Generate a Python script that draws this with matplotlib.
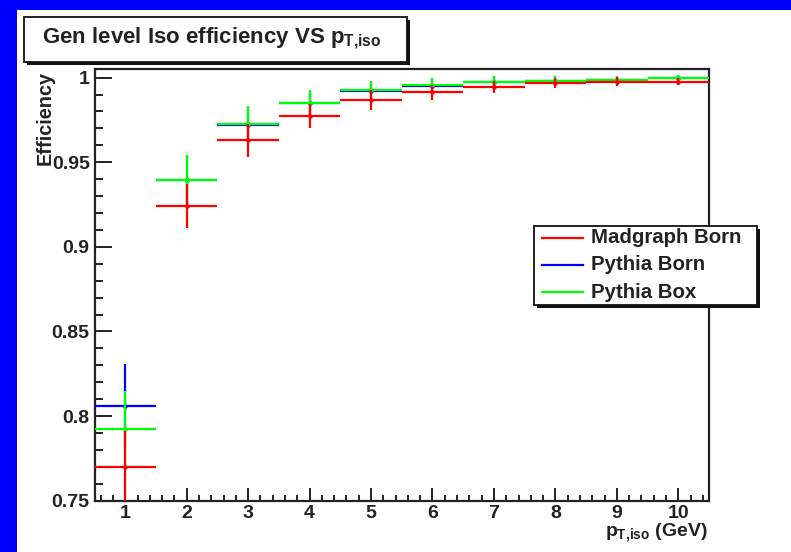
import matplotlib
matplotlib.use("Agg")
import matplotlib.pyplot as plt
from matplotlib.patches import Rectangle
from matplotlib.lines import Line2D
from matplotlib.ticker import MultipleLocator

plt.rcParams['font.family'] = ['Liberation Sans', 'DejaVu Sans']
plt.rcParams['font.weight'] = 'bold'
plt.rcParams['mathtext.fontset'] = 'custom'
plt.rcParams['mathtext.rm'] = 'Liberation Sans:bold'
plt.rcParams['mathtext.it'] = 'Liberation Sans:bold'
plt.rcParams['mathtext.bf'] = 'Liberation Sans:bold'

# ---- data ----
pt_bins = [1, 2, 3, 4, 5, 6, 7, 8, 9, 10]
series_names = ["Madgraph Born", "Pythia Born", "Pythia Box"]
madgraph_born = [0.770, 0.924, 0.963, 0.9775, 0.9868, 0.9914, 0.9945, 0.9970, 0.9976, 0.9977]
madgraph_err = [0.021, 0.013, 0.0097, 0.007, 0.006, 0.0045, 0.0035, 0.003, 0.0025, 0.0022]
pythia_born = [0.806, 0.9395, 0.9722, 0.9848, 0.9922, 0.9953, 0.9973, 0.9980, 0.9985, 0.9996]
pythia_born_err = [0.0245, 0.0148, 0.0105, 0.0075, 0.0055, 0.0045, 0.0035, 0.003, 0.0025, 0.002]
pythia_box = [0.7926, 0.9395, 0.9728, 0.9852, 0.9926, 0.9955, 0.9975, 0.9982, 0.9986, 0.9997]
pythia_box_err = [0.022, 0.0145, 0.0103, 0.0075, 0.0053, 0.0045, 0.0035, 0.003, 0.0025, 0.002]
bin_half_width = 0.5
colors = ["#ff0000", "#0000ff", "#00ff00"]

W, H = 791, 552
fig = plt.figure(figsize=(W / 100, H / 100), dpi=100)
fig.patch.set_facecolor("#0000ff")


def fx(x):
    return x / W


def fy(y):
    return 1 - y / H


# white slide area
fig.add_artist(Rectangle((fx(17), 0), 1 - fx(17), fy(10), transform=fig.transFigure,
                         facecolor="white", edgecolor="none", zorder=0))

ax = fig.add_axes([fx(94.5), fy(500.7), fx(709) - fx(94.5), fy(69) - fy(500.7)])
ax.set_xlim(0.5, 10.5)
ax.set_ylim(0.75, 1.0051)

order = [1, 2, 0]  # blue, green, red (red on top)
vals = [madgraph_born, pythia_born, pythia_box]
errs = [madgraph_err, pythia_born_err, pythia_box_err]
for z, i in enumerate(order):
    ax.errorbar(pt_bins, vals[i], yerr=errs[i], xerr=bin_half_width, fmt='o',
                color=colors[i], ms=2.2, elinewidth=1.6, capsize=0, zorder=3 + z)

for s in ax.spines.values():
    s.set_linewidth(1.6)
    s.set_color("#222222")

ax.xaxis.set_major_locator(MultipleLocator(1))
ax.xaxis.set_minor_locator(MultipleLocator(0.2))
ax.yaxis.set_major_locator(MultipleLocator(0.05))
ax.yaxis.set_minor_locator(MultipleLocator(0.01))
ax.tick_params(axis='both', which='both', direction='in', top=False, right=False,
               labelsize=14, colors="#222222", width=1.4)
ax.tick_params(axis='y', which='major', length=12, pad=3.5)
ax.tick_params(axis='y', which='minor', length=6)
ax.tick_params(axis='x', which='major', length=9.5, pad=3)
ax.tick_params(axis='x', which='minor', length=4.5)
ax.set_yticks([0.75, 0.8, 0.85, 0.9, 0.95, 1.0])
ax.set_yticklabels(["0.75", "0.8", "0.85", "0.9", "0.95", "1"])
for lab in ax.get_xticklabels() + ax.get_yticklabels():
    lab.set_fontweight('bold')

# axis titles
fig.text(fx(45), fy(71), "Efficiency", rotation=90, ha='center', va='top',
         fontsize=14.3, fontweight='bold', color="#222222")
fig.text(fx(708), fy(537), r"$p_{T{,}iso}$ (GeV)", ha='right', va='baseline',
         fontsize=14, fontweight='bold', color="#222222")

# title box with shadow
tx0, ty0, tx1, ty1 = 24, 17, 407, 62
fig.add_artist(Rectangle((fx(tx0 + 3), fy(ty1 + 3)), fx(tx1 - tx0), fy(ty0) - fy(ty1),
                         transform=fig.transFigure, facecolor="#111111", edgecolor="none", zorder=5))
fig.add_artist(Rectangle((fx(tx0), fy(ty1)), fx(tx1 - tx0), fy(ty0) - fy(ty1),
                         transform=fig.transFigure, facecolor="white", edgecolor="#111111",
                         lw=1.3, zorder=6))
fig.text(fx(42), fy(43), r"Gen level Iso efficiency VS $p_{T{,}iso}$", ha='left', va='baseline',
         fontsize=16, fontweight='bold', color="#222222", zorder=7)

# legend box with shadow
lx0, ly0, lx1, ly1 = 534, 226, 757, 305
fig.add_artist(Rectangle((fx(lx0 + 3), fy(ly1 + 3)), fx(lx1 - lx0), fy(ly0) - fy(ly1),
                         transform=fig.transFigure, facecolor="#111111", edgecolor="none", zorder=8))
fig.add_artist(Rectangle((fx(lx0), fy(ly1)), fx(lx1 - lx0), fy(ly0) - fy(ly1),
                         transform=fig.transFigure, facecolor="white", edgecolor="#111111",
                         lw=1.3, zorder=9))
row_y = [237.7, 265, 292.3]
for name, c, yy in zip(series_names, colors, row_y):
    fig.add_artist(Line2D([fx(542), fx(583)], [fy(yy), fy(yy)], transform=fig.transFigure,
                          color=c, lw=1.6, zorder=10))
    fig.text(fx(591), fy(yy), name, ha='left', va='center', fontsize=14.7,
             fontweight='bold', color="#222222", zorder=10)

fig.savefig("out.png", dpi=100, facecolor=fig.get_facecolor())
